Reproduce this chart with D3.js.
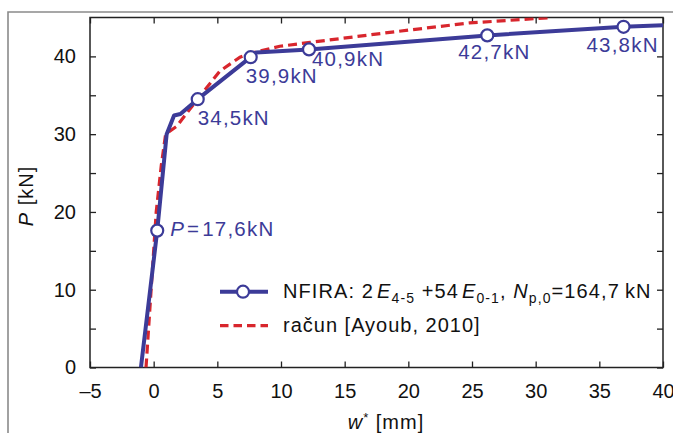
<!DOCTYPE html>
<html><head><meta charset="utf-8">
<script src="https://cdn.jsdelivr.net/npm/d3@7"></script>
<style>
html,body{margin:0;padding:0;background:#fff;}
svg{display:block;font-family:"Liberation Sans",Arial,sans-serif;}
</style></head>
<body>
<svg id="c" width="673" height="433"></svg>
<script>
// ---- data ----
const xTicks = [-5, 0, 5, 10, 15, 20, 25, 30, 35, 40];
const yTicks = [0, 5, 10, 15, 20, 25, 30, 35, 40];
const yTickLabels = [0, 10, 20, 30, 40];

const nfiraW = [-1.0, 0.28, 1.02, 1.6, 2.1, 3.46, 7.62, 8.05, 12.2, 26.2, 36.9, 40.0];
const nfiraP = [0, 17.6, 30.0, 32.4, 32.6, 34.5, 39.9, 40.5, 40.9, 42.7, 43.8, 44.0];
const markerIdx = [1, 5, 6, 8, 9, 10];
const markerLabels = ["17,6kN", "34,5kN", "39,9kN", "40,9kN", "42,7kN", "43,8kN"];

const racunW = [-0.6, 0.2, 0.6, 0.94, 1.8, 3.64, 5.2, 6.78, 7.6, 9.9, 12.3, 19.1, 24.8, 31.3];
const racunP = [0, 20, 26, 30, 31.0, 34.9, 38.1, 39.9, 40.4, 41.3, 41.8, 43.2, 44.3, 45.0];

// ---- layout ----
const blue = "#3c3b98", red = "#d8262d";
const svg = d3.select("#c");
const L = 90, R = 663, T = 17.5, B = 367.5;
const x = d3.scaleLinear().domain([-5, 40]).range([L, R]);
const y = d3.scaleLinear().domain([0, 45]).range([B, T]);

// outer frame (top + left)
svg.append("path").attr("d", "M8,433V12H673").attr("fill", "none")
  .attr("stroke", "#8a8a8a").attr("stroke-width", 1.6);

// axes with inward ticks
const tl = 6;
const gx = svg.append("g").attr("transform", `translate(0,${B})`)
  .call(d3.axisBottom(x).tickValues(xTicks).tickSize(-tl).tickFormat(d => d < 0 ? "\u2013" + Math.abs(d) : d).tickPadding(16));
const gxt = svg.append("g").attr("transform", `translate(0,${T})`)
  .call(d3.axisTop(x).tickValues(xTicks).tickSize(-tl).tickFormat(""));
const gy = svg.append("g").attr("transform", `translate(${L},0)`)
  .call(d3.axisLeft(y).tickValues(yTicks).tickSize(-tl).tickPadding(14)
    .tickFormat(d => yTickLabels.includes(d) ? d : ""));
const gyr = svg.append("g").attr("transform", `translate(${R},0)`)
  .call(d3.axisRight(y).tickValues(yTicks).tickSize(-tl).tickFormat(""));
[gx, gxt, gy, gyr].forEach(g => {
  g.select(".domain").remove();
  g.selectAll("line").attr("stroke", "#222").attr("stroke-width", 1.3);
  g.selectAll("text").attr("fill", "#111").style("font-size", "20px")
   .style("font-family", "'Liberation Sans',Arial,sans-serif");
});
svg.append("rect").attr("x", L).attr("y", T).attr("width", R - L).attr("height", B - T)
  .attr("fill", "none").attr("stroke", "#222").attr("stroke-width", 1.5);

// axis titles
svg.append("text").attr("transform", "translate(33,196) rotate(-90)")
  .attr("text-anchor", "middle").style("font-size", "20px").style("letter-spacing", "1px").attr("fill", "#111")
  .html('<tspan font-style="italic">P</tspan> [kN]');
svg.append("text").attr("x", 386).attr("y", 429).attr("text-anchor", "middle")
  .style("font-size", "20px").style("letter-spacing", "1px").attr("fill", "#111")
  .html('<tspan font-style="italic">w</tspan><tspan dy="-7" font-size="13">*</tspan><tspan dy="7"> [mm]</tspan>');

// clip
svg.append("clipPath").attr("id", "clip").append("rect")
  .attr("x", L).attr("y", T).attr("width", R - L).attr("height", B - T);
const plot = svg.append("g").attr("clip-path", "url(#clip)");

const line = d3.line().x(d => x(d[0])).y(d => y(d[1]));
plot.append("path").datum(racunW.map((w, i) => [w, racunP[i]]))
  .attr("d", line).attr("fill", "none").attr("stroke", red)
  .attr("stroke-width", 3.2).attr("stroke-dasharray", "9,5");
plot.append("path").datum(nfiraW.map((w, i) => [w, nfiraP[i]]))
  .attr("d", line).attr("fill", "none").attr("stroke", blue)
  .attr("stroke-width", 4).attr("stroke-linejoin", "round");

const mk = markerIdx.map(i => [nfiraW[i], nfiraP[i]]);
svg.selectAll("circle.m").data(mk).join("circle").attr("class", "m")
  .attr("cx", d => x(d[0])).attr("cy", d => y(d[1])).attr("r", 6)
  .attr("fill", "#fff").attr("stroke", blue).attr("stroke-width", 2.2);

// marker labels (offsets in px)
const offs = [[13, 5], [0, 26], [-5, 26], [3, 17], [-29, 24], [-37, 25]];
mk.forEach((d, i) => {
  const t = svg.append("text").attr("x", x(d[0]) + offs[i][0]).attr("y", y(d[1]) + offs[i][1])
    .attr("fill", blue).style("font-size", "20.5px").style("letter-spacing", "1.2px");
  if (i === 0) t.html('<tspan font-style="italic">P</tspan><tspan dx="2">=</tspan><tspan dx="2">' + markerLabels[i] + '</tspan>');
  else t.text(markerLabels[i]);
});

// legend
const lg = svg.append("g");
lg.append("line").attr("x1", 220).attr("x2", 268).attr("y1", 291.7).attr("y2", 291.7)
  .attr("stroke", blue).attr("stroke-width", 4);
lg.append("circle").attr("cx", 243).attr("cy", 291.7).attr("r", 6)
  .attr("fill", "#fff").attr("stroke", blue).attr("stroke-width", 2.2);
lg.append("text").attr("x", 283).attr("y", 298).style("font-size", "20px").style("letter-spacing", "1.1px").attr("fill", "#111")
  .html('NFIRA: 2<tspan dx="3" font-style="italic">E</tspan><tspan dy="5" font-size="14">4-5</tspan><tspan dy="-5"> +54</tspan><tspan dx="3" font-style="italic">E</tspan><tspan dy="5" font-size="14">0-1</tspan><tspan dy="-5">, </tspan><tspan font-style="italic">N</tspan><tspan dy="5" font-size="14">p,0</tspan><tspan dy="-5">=164,7\u2009kN</tspan>');
lg.append("line").attr("x1", 220).attr("x2", 268).attr("y1", 325.7).attr("y2", 325.7)
  .attr("stroke", red).attr("stroke-width", 3.2).attr("stroke-dasharray", "8.5,5");
lg.append("text").attr("x", 283).attr("y", 332).style("font-size", "20px").style("letter-spacing", "1px").attr("fill", "#111")
  .text("račun [Ayoub, 2010]");
</script>
</body></html>
